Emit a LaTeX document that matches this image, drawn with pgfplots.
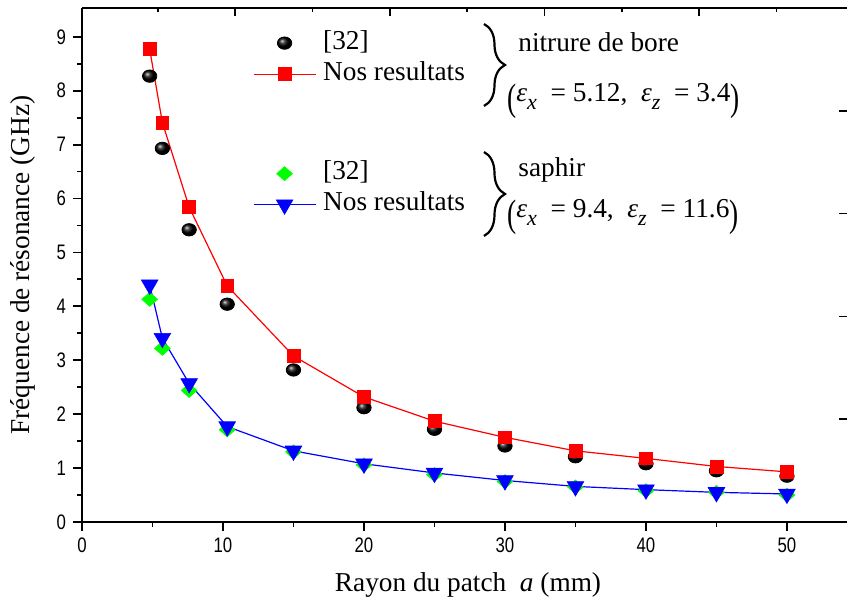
\documentclass[border=0pt]{standalone}
\usepackage{pgfplots}
\pgfplotsset{compat=1.18}
\usetikzlibrary{decorations.pathreplacing}
\usepackage{graphicx}
\usepackage{fontspec}
\setmainfont{Liberation Serif}
\newfontfamily\ticksf[FakeStretch=0.8]{Liberation Sans}

\definecolor{resred}{RGB}{255,0,0}
\definecolor{resblue}{RGB}{0,0,255}
\definecolor{resgreen}{RGB}{0,255,0}

\newcommand\txtsize{\fontsize{13.65bp}{16bp}\selectfont}
\newcommand\sub[1]{\raisebox{-4bp}{\fontsize{11bp}{12bp}\selectfont\textit{#1}}}
\newcommand\bigpar[1]{\raisebox{-4.5bp}{\scalebox{1}[1.4]{#1}}}

% legend picture: 31bp line with the mark in its middle
\pgfplotsset{
  legimg/.style={legend image code/.code={%
    \draw[mark repeat=2,mark phase=2,##1] plot coordinates {(0bp,0bp) (15.5bp,0bp) (31bp,0bp)};}},
  leg/.style={draw=none, fill=none, inner sep=0pt, outer sep=0pt,
    row sep=2.5bp, column sep=3.5bp, font=\txtsize,
    nodes={inner sep=0pt, text height=9.5bp, text depth=3.5bp}},
  ballmark/.style={only marks, mark=ball, mark size=3.6bp,
    mark options={ball color=black, yscale=0.86}},
  redmark/.style={color=resred, line width=0.6bp, mark=square*, mark size=3.2bp,
    mark options={fill=resred, draw=resred, line width=0.3bp}},
  greenmark/.style={only marks, mark=diamond*, mark size=3.5bp,
    mark options={fill=resgreen, draw=resgreen, xscale=1.5, line width=0.3bp}},
  bluemark/.style={color=resblue, line width=0.6bp, mark=triangle*, mark size=4.8bp,
    mark options={fill=resblue, draw=resblue, rotate=180, line width=0.3bp}},
}

% radius a (mm) and resonance frequency (GHz)
\pgfplotstableread{
a     ref32bn  oursbn  ref32sa  ourssa
4.8   8.27     8.77    4.13     4.40
5.7   6.93     7.41    3.22     3.41
7.6   5.42     5.84    2.44     2.57
10.3  4.04     4.38    1.71     1.77
15    2.82     3.08    1.30     1.32
20    2.12     2.32    1.06     1.08
25    1.72     1.87    0.88     0.91
30    1.41     1.57    0.75     0.77
35    1.21     1.32    0.65     0.66
40    1.08     1.18    0.58     0.60
45    0.95     1.03    0.55     0.55
50    0.85     0.93    0.50     0.52
}\freqdata

\begin{document}
\begin{tikzpicture}
\path[use as bounding box] (0,0) rectangle (423.5bp,302.5bp);

\begin{axis}[
  at={(41bp,41.5bp)}, anchor=south west,
  scale only axis, width=382.5bp, height=257bp,
  xmin=0, xmax=54.26, ymin=0, ymax=9.534,
  axis x line*=box, axis y line*=left,
  xtick={0,10,...,50}, ytick={0,1,...,9},
  minor x tick num=1, minor y tick num=1,
  xtick pos=left, ytick pos=left,
  tick align=outside,
  major tick length=4.5bp, minor tick length=2.5bp,
  every tick/.append style={black, line width=0.9bp},
  axis line style={black, line width=1bp},
  ticklabel style={font=\ticksf\fontsize{10.5bp}{12bp}\selectfont},
  /pgf/number format/assume math mode=true,
  xlabel={Rayon du patch\ \ \textit{a} (mm)},
  ylabel={Fréquence de résonance (GHz)},
  label style={font=\txtsize},
  xlabel style={at={(axis description cs:0.5046,-0.123)}, anchor=center},
  ylabel style={at={(axis description cs:-0.077,0.5)}, anchor=center},
  legend style={leg, at={(axis description cs:0.2235,0.957)}, anchor=north west},
  legend cell align=left,
]
\addplot[ballmark, legimg] table[x=a, y=ref32bn] {\freqdata};
\addlegendentry{{[32]}}
\addplot[redmark, legimg] table[x=a, y=oursbn] {\freqdata};
\addlegendentry{Nos resultats}
\addplot[greenmark, legimg] table[x=a, y=ref32sa] {\freqdata};
\addplot[bluemark, legimg] table[x=a, y=ourssa] {\freqdata};
\end{axis}

% second layer: its own right ticks, and the sapphire legend
\begin{axis}[
  at={(41bp,41.5bp)}, anchor=south west,
  scale only axis, width=382.5bp, height=257bp,
  xmin=0, xmax=1, ymin=0, ymax=5,
  axis line style={draw=none},
  xtick=\empty,
  ytick={1,2,3,4},
  ytick pos=right,
  yticklabels={},
  tick align=inside,
  major tick length=4bp,
  every tick/.append style={black, line width=0.8bp},
  legend style={leg, at={(axis description cs:0.2235,0.703)}, anchor=north west},
  legend cell align=left,
]
\addlegendimage{greenmark, legimg}
\addlegendentry{{[32]}}
\addlegendimage{bluemark, legimg}
\addlegendentry{Nos resultats}
\end{axis}

\begin{scope}[x=0.5bp, y=-0.5bp, yshift=302.5bp]
  % inward ticks of the second layer along the top edge
  \foreach \k in {1,3,5,7,9}
    \draw[line width=0.8bp] ({80.5+77.35*\k},8) -- ++(0,4.4);
  \foreach \k in {2,4,6,8}
    \draw[line width=0.8bp] ({80.5+77.35*\k},8) -- ++(0,8);
  % braces grouping each pair of series with its material
  \draw[line width=1.1bp, decorate, decoration={brace, amplitude=10.5bp}]
    (484,24) -- (484,106);
  \draw[line width=1.1bp, decorate, decoration={brace, amplitude=10.5bp}]
    (484,152) -- (484,236);
  \node[font=\txtsize, inner sep=0pt, anchor=base west] at (518,52) {nitrure de bore};
  \node[font=\txtsize, inner sep=0pt, anchor=base west] at (507,102)
    {\bigpar{(}\textit{ε}\sub{x}\ \ = 5.12,\ \ \textit{ε}\sub{z}\ \ = 3.4\bigpar{)}};
  \node[font=\txtsize, inner sep=0pt, anchor=base west] at (518,177) {saphir};
  \node[font=\txtsize, inner sep=0pt, anchor=base west] at (507,218)
    {\bigpar{(}\textit{ε}\sub{x}\ \ = 9.4,\ \ \textit{ε}\sub{z}\ \ = 11.6\bigpar{)}};
\end{scope}
\end{tikzpicture}
\end{document}
